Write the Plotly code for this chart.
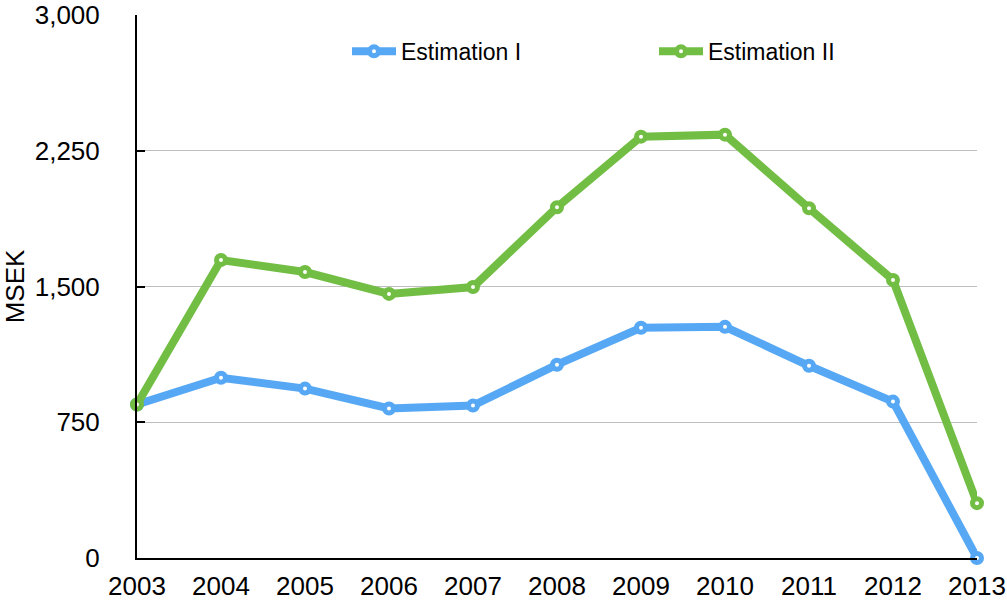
import plotly.graph_objects as go

years = [2003, 2004, 2005, 2006, 2007, 2008, 2009, 2010, 2011, 2012, 2013]
estimation_i = [848, 996, 936, 826, 842, 1068, 1272, 1277, 1062, 864, 0]
estimation_ii = [848, 1646, 1580, 1459, 1497, 1938, 2328, 2339, 1932, 1536, 303]
y_ticks = [0, 750, 1500, 2250, 3000]
y_labels = ["0", "750", "1,500", "2,250", "3,000"]

fig = go.Figure()
for name, vals, color in [("Estimation I", estimation_i, "#56A8F5"),
                          ("Estimation II", estimation_ii, "#72BE44")]:
    fig.add_trace(go.Scatter(
        x=years, y=vals, name=name, mode="lines+markers",
        line=dict(color=color, width=8),
        marker=dict(symbol="circle", size=9, color="white",
                    line=dict(color=color, width=5)),
        cliponaxis=False,
    ))

fig.update_layout(
    width=1007, height=604,
    margin=dict(l=137, r=30, t=15, b=46),
    plot_bgcolor="white", paper_bgcolor="white",
    font=dict(family="Liberation Sans, Arial, sans-serif", size=26, color="black"),
    showlegend=True,
    legend=dict(orientation="h", x=0.25, y=0.933, xanchor="left", yanchor="middle",
                entrywidth=248, entrywidthmode="pixels", itemwidth=44,
                font=dict(size=23), bgcolor="rgba(0,0,0,0)"),
    xaxis=dict(range=[2003, 2013], tickvals=years, ticktext=[str(y) for y in years],
               showgrid=False, zeroline=False, showline=True, linecolor="black",
               linewidth=2, ticks="", ticklabelstandoff=4,
               tickfont=dict(size=26), automargin=False),
    yaxis=dict(range=[0, 3000], tickvals=y_ticks, ticktext=y_labels,
               showgrid=True, gridcolor="#BFBFBF", gridwidth=1, zeroline=False,
               showline=True, linecolor="black", linewidth=2,
               ticks="inside", ticklen=8, tickwidth=2, tickcolor="black",
               ticklabelstandoff=30, ticklabeloverflow="allow", automargin=False,
               title=dict(text="MSEK", standoff=6, font=dict(size=26)),
               tickfont=dict(size=26)),
)

fig.write_html("out.html")
